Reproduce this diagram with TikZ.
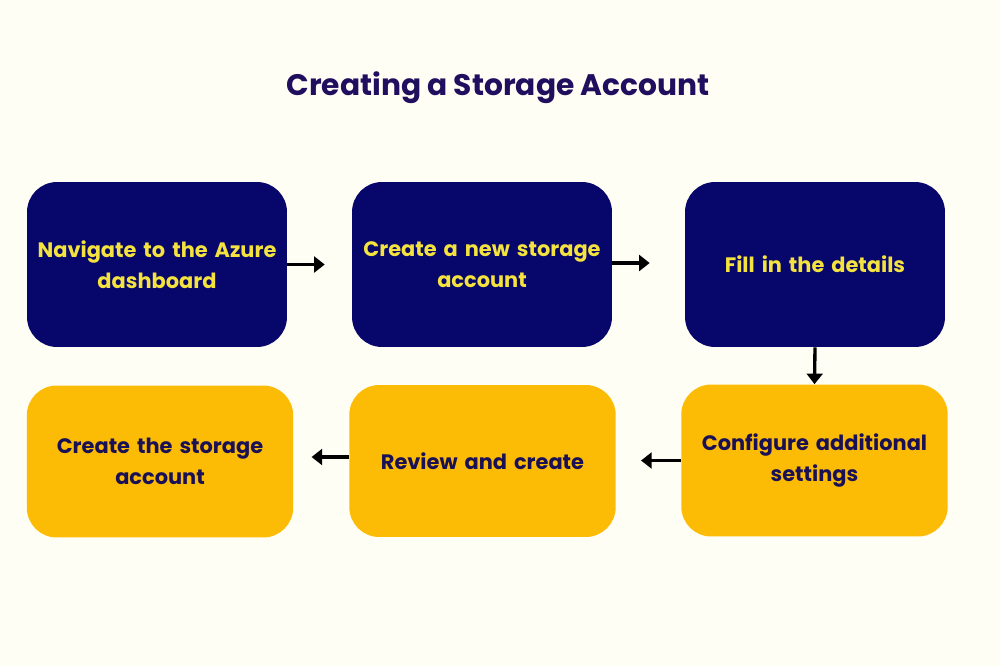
\documentclass[tikz,border=0pt]{standalone}
\usepackage{fontspec}
\setmainfont{Poppins}
\usepackage{tikz}
\usetikzlibrary{arrows.meta}
\definecolor{azbg}{HTML}{FFFEF4}
\definecolor{aznavy}{HTML}{07066A}
\definecolor{azyellow}{HTML}{F4E23F}
\definecolor{azamber}{HTML}{FCBB05}
\definecolor{aztitle}{HTML}{200F5E}
\definecolor{azink}{HTML}{1A1055}

\begin{document}
\begin{tikzpicture}[x=0.02cm,y=-0.02cm,
    navybox/.style={fill=aznavy,rounded corners=0.6cm,inner sep=0,
      minimum width=5.2cm,minimum height=3.3cm,text width=5cm,align=center,
      text=azyellow,font=\bfseries\fontsize{11.9}{17.8}\selectfont},
    amberbox/.style={navybox,fill=azamber,text=azink,
      minimum width=5.33cm,minimum height=3.04cm},
    flow/.style={line width=1.9pt,-{Triangle[length=6pt,width=9pt]}}]
  \fill[azbg] (0,0) rectangle (1000,666);
  \node[text=aztitle,font=\bfseries\fontsize{16.9}{20}\selectfont] (title) at (498,88) {Creating a Storage Account};
  % top row
  \node[navybox] (nav) at (157,264.5) {Navigate to the Azure\\dashboard};
  \node[navybox] (new) at (482,264.5) {Create a new storage\\account};
  \node[navybox] (fill) at (815,264.5) {Fill in the details};
  % bottom row
  \node[amberbox] (conf) at (814.5,460.5) {Configure additional\\settings};
  \node[amberbox] (rev) at (482.5,461) {Review and create};
  \node[amberbox] (make) at (160,461.5) {Create the storage\\account};
  % arrows
  \draw[flow,shorten >=0.54cm] (nav.east) -- (nav.east -| new.west);
  \draw[flow,shorten >=0.7cm] ([yshift=0.03cm]new.east) -- ([yshift=0.03cm]new.east -| fill.west);
  \draw[flow] (fill.south) -- (conf.north);
  \draw[flow,shorten >=0.5cm] (conf.west) -- (conf.west -| rev.east);
  \draw[flow,shorten >=0.36cm] ([yshift=0.08cm]rev.west) -- ([yshift=0.08cm]rev.west -| make.east);
\end{tikzpicture}
\end{document}
